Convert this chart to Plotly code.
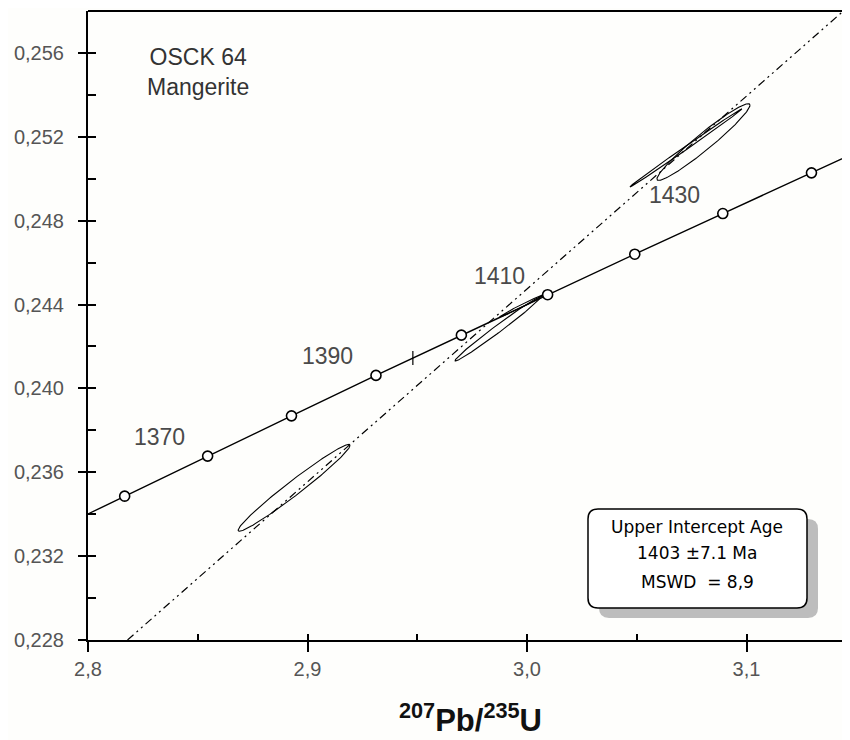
import numpy as np
import plotly.graph_objects as go

# ---------------- data ----------------
concordia_age = [1360, 1370, 1380, 1390, 1400, 1410, 1420, 1430, 1440]
concordia_x = [2.8167, 2.8545, 2.8927, 2.9312, 2.9701, 3.0094, 3.0491, 3.0892, 3.1296]
concordia_y = [0.23486, 0.23677, 0.23869, 0.24062, 0.24254, 0.24447, 0.24640, 0.24834, 0.25028]
concordia_start = [2.800, 0.23401]
concordia_end = [3.155, 0.25150]
labelled_ages = [1370, 1390, 1410, 1430]
concordia_tick_x = [2.948]
concordia_tick_y = [0.24145]

discordia_x = [2.818, 3.155]
discordia_y = [0.2280, 0.2590]

ell_cx = [2.8939, 2.9866, 2.9982, 3.0804, 3.0724]
ell_cy = [0.23526, 0.24283, 0.24397, 0.25175, 0.25147]
ell_sx = [0.0255, 0.0194, 0.0105, 0.0212, 0.0255]
ell_sy = [0.00207, 0.00152, 0.00055, 0.00183, 0.00186]
ell_rho = [0.978, 0.990, 0.992, 0.962, 0.9987]

sample_text = "OSCK 64<br>Mangerite"
result_lines = ["Upper Intercept Age", "1403 \u00b17.1 Ma", "MSWD  = 8,9"]
x_title = "<b><sup>207</sup>Pb/<sup>235</sup>U</b>"

# ---------------- figure ----------------
# the page body adds an 8px margin, so the figure is sized/offset to compensate
BG = "#fefefc"
OFF = 8
W, H = 850, 740 - OFF
ML, MR, MT, MB = 88 - OFF, 0, 11 - OFF, 100
PW, PH = W - ML - MR, H - MT - MB
XL, YB = 88, 640  # plot-area left / bottom in window pixels

fig = go.Figure()

# discordia
fig.add_trace(go.Scatter(x=discordia_x, y=discordia_y, mode="lines",
                         line=dict(color="black", width=1.2, dash="8px,4px,2px,4px,2px,4px"),
                         hoverinfo="skip"))

# error ellipses
theta = np.linspace(0, 2 * np.pi, 200)
for cx, cy, sx, sy, r in zip(ell_cx, ell_cy, ell_sx, ell_sy, ell_rho):
    ex = cx + sx * np.cos(theta)
    ey = cy + sy * (r * np.cos(theta) + np.sqrt(1 - r * r) * np.sin(theta))
    fig.add_trace(go.Scatter(x=ex, y=ey, mode="lines",
                             line=dict(color="black", width=1.1), hoverinfo="skip"))

# concordia curve
cx_all = [concordia_start[0]] + concordia_x + [concordia_end[0]]
cy_all = [concordia_start[1]] + concordia_y + [concordia_end[1]]
fig.add_trace(go.Scatter(x=cx_all, y=cy_all, mode="lines",
                         line=dict(color="black", width=1.4), hoverinfo="skip"))
fig.add_trace(go.Scatter(x=concordia_x, y=concordia_y, mode="markers",
                         marker=dict(symbol="circle", size=10, color="white",
                                     line=dict(color="black", width=1.6)),
                         hoverinfo="skip"))
fig.add_trace(go.Scatter(x=concordia_tick_x, y=concordia_tick_y, mode="markers",
                         marker=dict(symbol="line-ns", size=10,
                                     line=dict(color="black", width=1.2)),
                         hoverinfo="skip"))

# dummy trace to carry the overlay axes (inner tick halves)
fig.add_trace(go.Scatter(x=[None], y=[None], xaxis="x2", yaxis="y2",
                         mode="markers", showlegend=False, hoverinfo="skip"))

# age labels
for a in labelled_ages:
    i = concordia_age.index(a)
    fig.add_annotation(x=concordia_x[i], y=concordia_y[i], text=str(a),
                       showarrow=False, xshift=-48, yshift=19,
                       xanchor="center", yanchor="middle",
                       font=dict(family="Liberation Sans, Arial", size=23, color="#4a4a4a"))


def pxx(p):
    return (p - XL) / PW


def pyy(p):
    return (YB - p) / PH


# sample name
fig.add_annotation(xref="paper", yref="paper", x=pxx(198), y=pyy(72), text=sample_text,
                   showarrow=False, align="center", xanchor="center", yanchor="middle",
                   font=dict(family="Liberation Sans, Arial", size=23, color="#333333"))

# x title
fig.add_annotation(xref="paper", yref="paper", x=pxx(470), y=pyy(718),
                   text=x_title, showarrow=False, xanchor="center", yanchor="middle",
                   font=dict(family="Liberation Sans, Arial", size=31, color="#111111"))


def rrect(x0, y0, x1, y1, r):
    pts = [("M", x0 + r, y0), ("L", x1 - r, y0), ("Q", x1, y0, x1, y0 + r),
           ("L", x1, y1 - r), ("Q", x1, y1, x1 - r, y1), ("L", x0 + r, y1),
           ("Q", x0, y1, x0, y1 - r), ("L", x0, y0 + r), ("Q", x0, y0, x0 + r, y0)]
    s = ""
    for p in pts:
        coords = p[1:]
        parts = [f"{pxx(coords[k]):.5f},{pyy(coords[k + 1]):.5f}"
                 for k in range(0, len(coords), 2)]
        s += p[0] + " " + " ".join(parts) + " "
    return s + "Z"


# rounded result box with shadow
bx0, by0, bx1, by1 = 588, 509, 807, 608
fig.add_shape(type="path", xref="paper", yref="paper",
              path=rrect(bx0 + 11, by0 + 10, bx1 + 11, by1 + 10, 10),
              fillcolor="#bdbdbd", line=dict(width=0), layer="above")
fig.add_shape(type="path", xref="paper", yref="paper",
              path=rrect(bx0, by0, bx1, by1, 10),
              fillcolor="white", line=dict(color="black", width=1.5), layer="above")
for line_text, ypix in zip(result_lines, [527, 553, 582]):
    fig.add_annotation(xref="paper", yref="paper", x=pxx(697), y=pyy(ypix),
                       text=line_text, showarrow=False,
                       xanchor="center", yanchor="middle",
                       font=dict(family="DejaVu Sans", size=17, color="black"))

# top frame line
fig.add_shape(type="line", xref="paper", yref="paper", x0=0, x1=1, y0=1, y1=1,
              line=dict(color="black", width=2))

tickfont = dict(family="Liberation Sans, Arial", size=20, color="#555555")
xr = [2.8, 2.8 + PW / 2195.0]
yr = [0.228, 0.258]

fig.update_layout(
    width=W, height=H, margin=dict(l=ML, r=MR, t=MT, b=MB, autoexpand=False),
    paper_bgcolor=BG, plot_bgcolor=BG, showlegend=False, separators=",.",
    xaxis=dict(range=xr, tickmode="linear", tick0=2.8, dtick=0.1, tickformat=".1f",
               ticks="outside", ticklen=10, tickwidth=1.5, tickcolor="black",
               showline=True, linewidth=2, linecolor="black", mirror=False,
               showgrid=False, zeroline=False, tickfont=tickfont,
               ticklabelstandoff=0, automargin=False),
    xaxis2=dict(range=xr, overlaying="x", anchor="y", side="bottom", tickmode="linear",
                tick0=2.8, dtick=0.05, ticks="inside", ticklen=6, tickwidth=1.5,
                tickcolor="black", showticklabels=False, showline=False,
                showgrid=False, zeroline=False),
    yaxis=dict(range=yr, tickmode="linear", tick0=0.228, dtick=0.004, tickformat=".3f",
               ticks="outside", ticklen=8, tickwidth=1.5, tickcolor="black",
               showline=True, linewidth=2, linecolor="black",
               showgrid=False, zeroline=False, tickfont=tickfont,
               ticklabelstandoff=10, automargin=False),
    yaxis2=dict(range=yr, overlaying="y", anchor="x", side="left", tickmode="linear",
                tick0=0.228, dtick=0.002, ticks="inside", ticklen=8, tickwidth=1.5,
                tickcolor="black", showticklabels=False, showline=False,
                showgrid=False, zeroline=False),
)

fig.write_html("out.html")
